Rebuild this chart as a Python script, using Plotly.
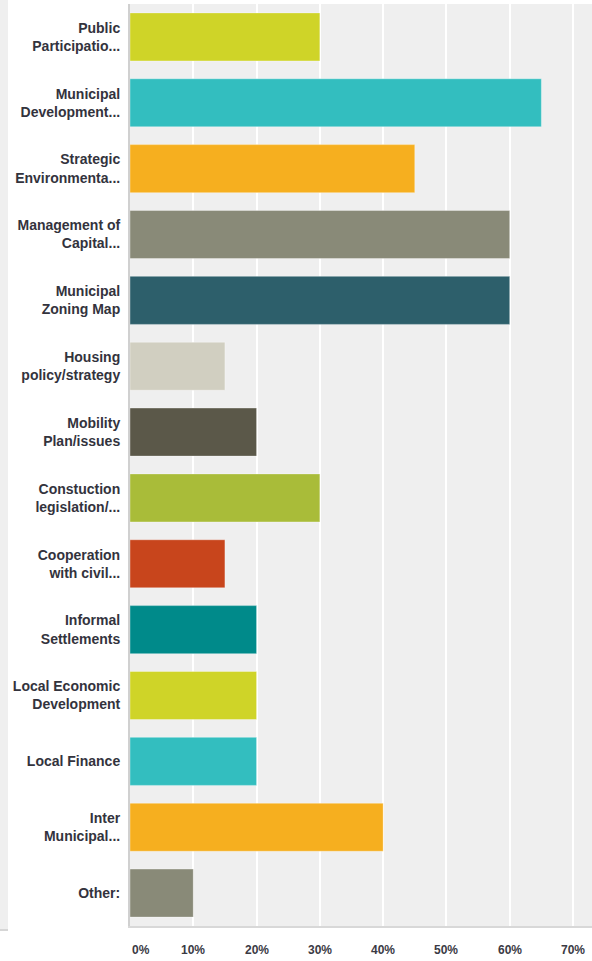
import plotly.graph_objects as go

# Survey answer options (as truncated in the chart) and share of respondents (%)
categories = [
    "Public<br>Participatio...",
    "Municipal<br>Development...",
    "Strategic<br>Environmenta...",
    "Management of<br>Capital...",
    "Municipal<br>Zoning Map",
    "Housing<br>policy/strategy",
    "Mobility<br>Plan/issues",
    "Constuction<br>legislation/...",
    "Cooperation<br>with civil...",
    "Informal<br>Settlements",
    "Local Economic<br>Development",
    "Local Finance",
    "Inter<br>Municipal...",
    "Other:",
]
values = [30, 65, 45, 60, 60, 15, 20, 30, 15, 20, 20, 20, 40, 10]

bar_colors = [
    "#CFD428", "#33BEBF", "#F6AF1F", "#898A78", "#2D5F6B", "#D1CFC1", "#5B5849",
    "#A9BC39", "#C8451C", "#008A8A", "#CFD428", "#33BEBF", "#F6AF1F", "#898A78",
]

tick_values = [0, 10, 20, 30, 40, 50, 60, 70]
tick_labels = ["0%", "10%", "20%", "30%", "40%", "50%", "60%", "70%"]

W, H = 592, 961
L, R, T, B = 130, 0, 4, 35
plot_w = W - L - R

fig = go.Figure(
    go.Bar(
        x=values,
        y=categories,
        orientation="h",
        marker=dict(color=bar_colors, line=dict(color="rgba(255,255,255,0.35)", width=1)),
        width=0.73,
        hoverinfo="x+y",
    )
)

# x tick labels drawn as annotations so the 0% label can sit inside the plot edge
annotations = []
for v, t in zip(tick_values, tick_labels):
    annotations.append(
        dict(
            x=v, y=0, xref="x", yref="paper",
            text=t, showarrow=False,
            xanchor="left" if v == 0 else "center",
            yanchor="top", yshift=-15,
            font=dict(family="Liberation Sans, Arial, sans-serif", size=12,
                      color="#3a3a44", weight="bold"),
        )
    )

# narrow panel strip at the far left of the page
shapes = [
    dict(
        type="rect", xref="paper", yref="paper",
        x0=-L / plot_w, x1=(8 - L) / plot_w,
        y0=-(930 - (H - B)) / (H - T - B), y1=1 + T / (H - T - B),
        fillcolor="#efefef", line=dict(width=0), layer="below",
    ),
    dict(
        type="line", xref="paper", yref="paper",
        x0=-L / plot_w, x1=(8 - L) / plot_w,
        y0=-(930 - (H - B)) / (H - T - B), y1=-(930 - (H - B)) / (H - T - B),
        line=dict(color="#d6d6d6", width=2),
    ),
]

fig.update_layout(
    width=W,
    height=H,
    margin=dict(l=L, r=R, t=T, b=B),
    paper_bgcolor="white",
    plot_bgcolor="#efefef",
    showlegend=False,
    bargap=0.27,
    annotations=annotations,
    shapes=shapes,
    font=dict(family="Liberation Sans, Arial, sans-serif"),
    xaxis=dict(
        range=[0, 73],
        tickvals=tick_values,
        showticklabels=False,
        showgrid=True,
        gridcolor="white",
        gridwidth=2,
        zeroline=False,
        showline=True,
        linecolor="#d8d8d8",
        linewidth=2,
        fixedrange=True,
    ),
    yaxis=dict(
        autorange="reversed",
        showgrid=False,
        zeroline=False,
        showline=True,
        linecolor="#d0d0d0",
        linewidth=2,
        ticks="",
        ticklabelstandoff=5,
        tickfont=dict(family="Liberation Sans, Arial, sans-serif", size=14, color="#33333d", weight="bold"),
        fixedrange=True,
    ),
)

fig.write_html("out.html")
